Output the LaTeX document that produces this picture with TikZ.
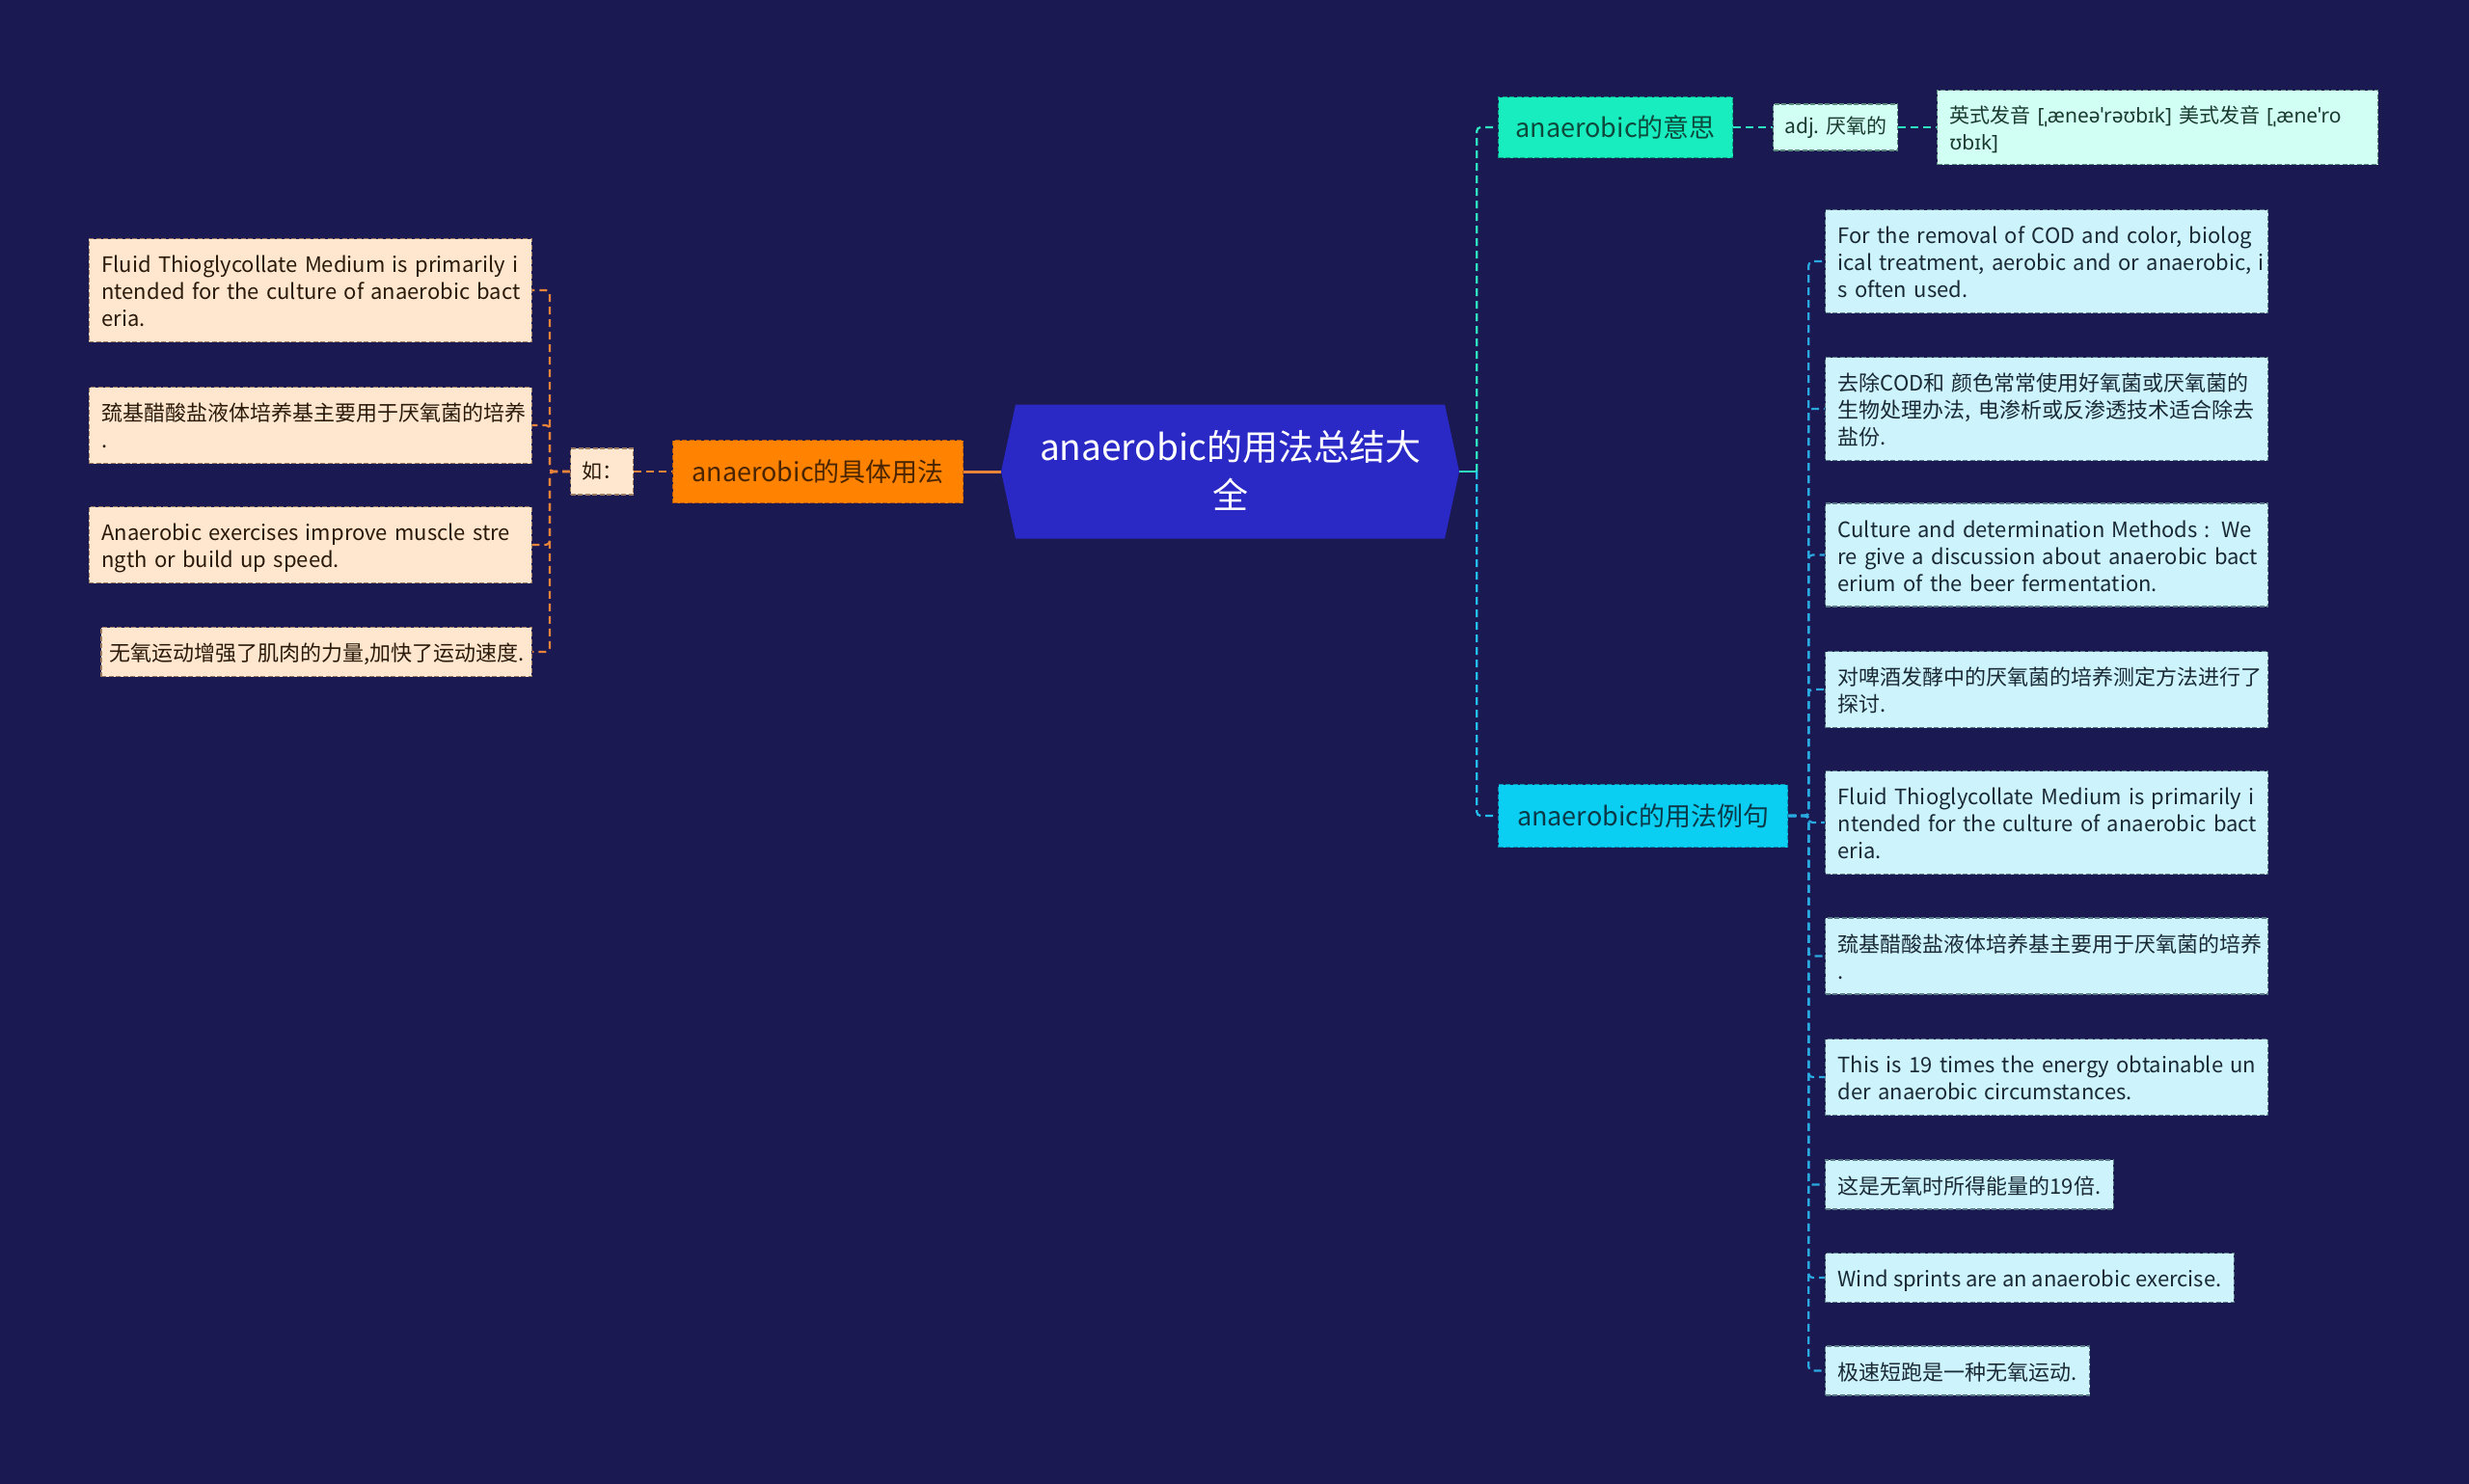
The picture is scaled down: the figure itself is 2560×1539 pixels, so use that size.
\documentclass[tikz,border=0pt]{standalone}
\usepackage{fontspec}
\setmainfont{Noto Sans CJK SC}
\newfontfamily\ipafont{Noto Sans}
\definecolor{bg}{HTML}{1B1952}
\definecolor{rootfill}{HTML}{2A29C6}
\definecolor{ofill}{HTML}{FF8200}
\definecolor{obord}{HTML}{B45A10}
\definecolor{otext}{HTML}{4A2500}
\definecolor{lfill}{HTML}{FFE6CF}
\definecolor{lbord}{HTML}{9A7A60}
\definecolor{ltext}{HTML}{2A1A0A}
\definecolor{tfill}{HTML}{18EDC0}
\definecolor{tbord}{HTML}{0E9E80}
\definecolor{ttext}{HTML}{0D4A3C}
\definecolor{mfill}{HTML}{D2FFF3}
\definecolor{mbord}{HTML}{5A8A7E}
\definecolor{mtext}{HTML}{1A3A30}
\definecolor{cfill}{HTML}{0ACFF2}
\definecolor{cbord}{HTML}{0A8EB0}
\definecolor{ctext}{HTML}{0A3A4A}
\definecolor{rfill}{HTML}{CDF3FC}
\definecolor{rbord}{HTML}{5A7A88}
\definecolor{rtext}{HTML}{1A2A35}
\definecolor{ocol}{HTML}{E8843A}
\definecolor{tealc}{HTML}{2EE8C0}
\definecolor{cyanc}{HTML}{22C0EE}
\definecolor{bluec}{HTML}{2AA8E0}
\newcommand\fsz[2]{\fontsize{#1}{#2}\selectfont}
\newcommand\txtl[1]{\raisebox{-4pt}[\height][\depth]{\begin{tabular}{@{}l@{}}#1\end{tabular}}}
\newcommand\txtc[1]{\raisebox{-3pt}[\height][\depth]{\begin{tabular}{@{}c@{}}#1\end{tabular}}}
\begin{document}
\begin{tikzpicture}[x=1pt,y=-1pt,
  conn/.style={line width=2.2pt, dash pattern=on 8pt off 5pt, rounded corners=4pt},
  boxdash/.style={line width=1.3pt, dash pattern=on 5pt off 2.5pt},
  leafR/.style={boxdash, draw=rbord, fill=rfill, text=rtext, font=\fsz{22}{28},
    inner xsep=13pt, inner ysep=11.5pt, anchor=west},
  wideR/.style={leafR, text width=433pt, align=left},
  leafL/.style={boxdash, draw=lbord, fill=lfill, text=ltext, font=\fsz{22}{28},
    inner xsep=13pt, inner ysep=11.5pt, anchor=east},
  wideL/.style={leafL, text width=433pt, align=left},
  topic/.style={boxdash, font=\fsz{27}{32}, inner sep=0pt, anchor=west}
]
\fill[bg] (0,0) rectangle (2560,1539);
\useasboundingbox (0,0) rectangle (2560,1539);

% root
\node[minimum width=475pt, minimum height=139pt, inner sep=0pt, text=white,
  font=\fsz{37}{50},
  path picture={\fill[rootfill] (path picture bounding box.west)
     -- ([xshift=15pt]path picture bounding box.north west)
     -- ([xshift=-15pt]path picture bounding box.north east)
     -- (path picture bounding box.east)
     -- ([xshift=-15pt]path picture bounding box.south east)
     -- ([xshift=15pt]path picture bounding box.south west) -- cycle;}]
  (root) at (1275.5,489) {\txtc{anaerobic的用法总结大\\全}};

% left branch
\node[topic, draw=obord, fill=ofill, text=otext, minimum width=301pt, minimum height=65pt]
  (orange) at (697,489) {anaerobic的具体用法};
\node[boxdash, draw=lbord, fill=lfill, text=ltext, font=\fsz{21}{28}, inner sep=0pt,
  minimum width=65pt, minimum height=48pt, anchor=west] (ru) at (591,489) {如：};

\node[wideL] (l1) at (552,301) {\txtl{Fluid Thioglycollate Medium is primarily i\\ntended for the culture of anaerobic bact\\eria.}};
\node[wideL] (l2) at (552,441) {\txtl{巯基醋酸盐液体培养基主要用于厌氧菌的培养\\.}};
\node[wideL] (l3) at (552,565) {\txtl{Anaerobic exercises improve muscle stre\\ngth or build up speed.}};
\node[leafL, inner xsep=8pt] (l4) at (552,676) {\txtl{无氧运动增强了肌肉的力量,加快了运动速度.}};

% right branch: meaning
\node[topic, draw=tbord, fill=tfill, text=ttext, minimum width=243pt, minimum height=63pt]
  (yisi) at (1553,132) {anaerobic的意思};
\node[boxdash, draw=mbord, fill=mfill, text=mtext, font=\fsz{21}{28}, inner sep=0pt,
  minimum width=129pt, minimum height=48pt, anchor=west] (adj) at (1838,132) {adj. 厌氧的};
\node[boxdash, draw=mbord, fill=mfill, text=mtext, font=\fsz{21}{28},
  inner xsep=13pt, inner ysep=10.5pt, text width=431pt, align=left, anchor=west]
  (pron) at (2008,132) {\txtl{英式发音 {\ipafont[ˌæneəˈrəʊbɪk]} 美式发音 {\ipafont[ˌæneˈro}\\{\ipafont ʊbɪk]}}};

% right branch: examples
\node[topic, draw=cbord, fill=cfill, text=ctext, minimum width=300pt, minimum height=65pt]
  (liju) at (1553,846) {anaerobic的用法例句};

\node[wideR] (r1) at (1892,271) {\txtl{For the removal of COD and color, biolog\\ical treatment, aerobic and or anaerobic, i\\s often used.}};
\node[wideR] (r2) at (1892,424) {\txtl{去除COD和 颜色常常使用好氧菌或厌氧菌的\\生物处理办法, 电渗析或反渗透技术适合除去\\盐份.}};
\node[wideR] (r3) at (1892,575.5) {\txtl{Culture and determination Methods : We\\re give a discussion about anaerobic bact\\erium of the beer fermentation.}};
\node[wideR] (r4) at (1892,715) {\txtl{对啤酒发酵中的厌氧菌的培养测定方法进行了\\探讨.}};
\node[wideR] (r5) at (1892,853) {\txtl{Fluid Thioglycollate Medium is primarily i\\ntended for the culture of anaerobic bact\\eria.}};
\node[wideR] (r6) at (1892,991.5) {\txtl{巯基醋酸盐液体培养基主要用于厌氧菌的培养\\.}};
\node[wideR] (r7) at (1892,1117) {\txtl{This is 19 times the energy obtainable un\\der anaerobic circumstances.}};
\node[leafR] (r8) at (1892,1228.5) {\txtl{这是无氧时所得能量的19倍.}};
\node[leafR] (r9) at (1892,1325) {\txtl{Wind sprints are an anaerobic exercise.}};
\node[leafR] (r10) at (1892,1421.5) {\txtl{极速短跑是一种无氧运动.}};

% connectors left
\draw[ocol, line width=3pt] (orange.east) -- (root.west);
\draw[conn, ocol] (ru.east) -- (orange.west);
\foreach \n in {l1,l2,l3,l4}
  \draw[conn, ocol] (ru.west) -- ++(-21,0) |- (\n.east);

% connectors right
\draw[tealc, line width=2.5pt] (root.east) -- ([xshift=18pt]root.east);
\draw[conn, tealc] ([xshift=18pt]root.east) |- (yisi.west);
\draw[conn, cyanc] ([xshift=18pt]root.east) |- (liju.west);
\draw[conn, tealc] (yisi.east) -- (adj.west);
\draw[conn, tealc] (adj.east) -- (pron.west);
\foreach \n in {r1,r2,r3,r4,r5,r6,r7,r8,r9,r10}
  \draw[conn, bluec] (liju.east) -- ++(21,0) |- (\n.west);
\end{tikzpicture}
\end{document}
